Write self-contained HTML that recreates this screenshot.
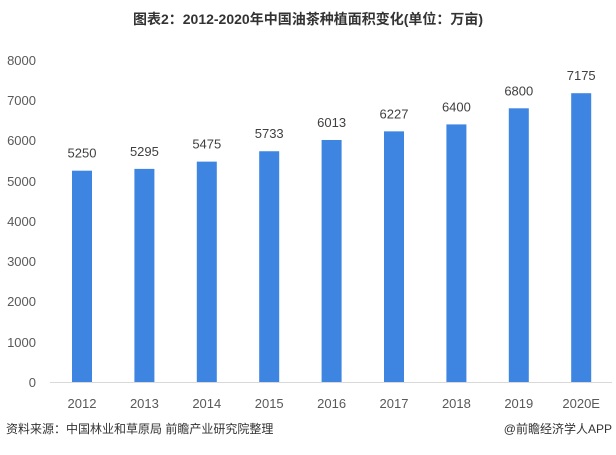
<!DOCTYPE html>
<html><head><meta charset="utf-8"><style>
body{margin:0;background:#fff;}
svg text{font-family:"Liberation Sans","Noto Sans CJK SC",sans-serif;}
</style></head><body>
<svg width="616" height="450" xmlns="http://www.w3.org/2000/svg">
<text x="308" y="24" text-anchor="middle" font-size="14" font-weight="bold" fill="#333">图表2：2012-2020年中国油茶种植面积变化(单位：万亩)</text>
<g font-size="13" fill="#595959" text-anchor="end">
<text x="36" y="387">0</text>
<text x="36" y="347">1000</text>
<text x="36" y="306">2000</text>
<text x="36" y="266">3000</text>
<text x="36" y="226">4000</text>
<text x="36" y="186">5000</text>
<text x="36" y="145">6000</text>
<text x="36" y="105">7000</text>
<text x="36" y="65">8000</text>
</g>
<line x1="50" y1="382.5" x2="612" y2="382.5" stroke="#d9d9d9" stroke-width="1"/>
<g fill="#3d85e0" id="bars"></g>
<g id="labels" font-size="13" fill="#404040" text-anchor="middle"></g>
<text x="6" y="433" font-size="12" fill="#333">资料来源：中国林业和草原局 前瞻产业研究院整理</text>
<text x="612" y="433" font-size="12" fill="#333" text-anchor="end">@前瞻经济学人APP</text>
<script>
var v=[5250,5295,5475,5733,6013,6227,6400,6800,7175],c=["2012","2013","2014","2015","2016","2017","2018","2019","2020E"];
var b=document.getElementById("bars"),l=document.getElementById("labels"),ns="http://www.w3.org/2000/svg";
for(var i=0;i<9;i++){var cx=82+i*62.4,h=v[i]*0.04025,y=382-h;
var r=document.createElementNS(ns,"rect");r.setAttribute("x",cx-10);r.setAttribute("y",y);r.setAttribute("width",20);r.setAttribute("height",h);b.appendChild(r);
var t=document.createElementNS(ns,"text");t.setAttribute("x",cx);t.setAttribute("y",y-13);t.textContent=v[i];l.appendChild(t);
var t2=document.createElementNS(ns,"text");t2.setAttribute("x",cx);t2.setAttribute("y",408);t2.setAttribute("fill","#595959");t2.textContent=c[i];l.appendChild(t2);}
</script>
</svg>
</body></html>
